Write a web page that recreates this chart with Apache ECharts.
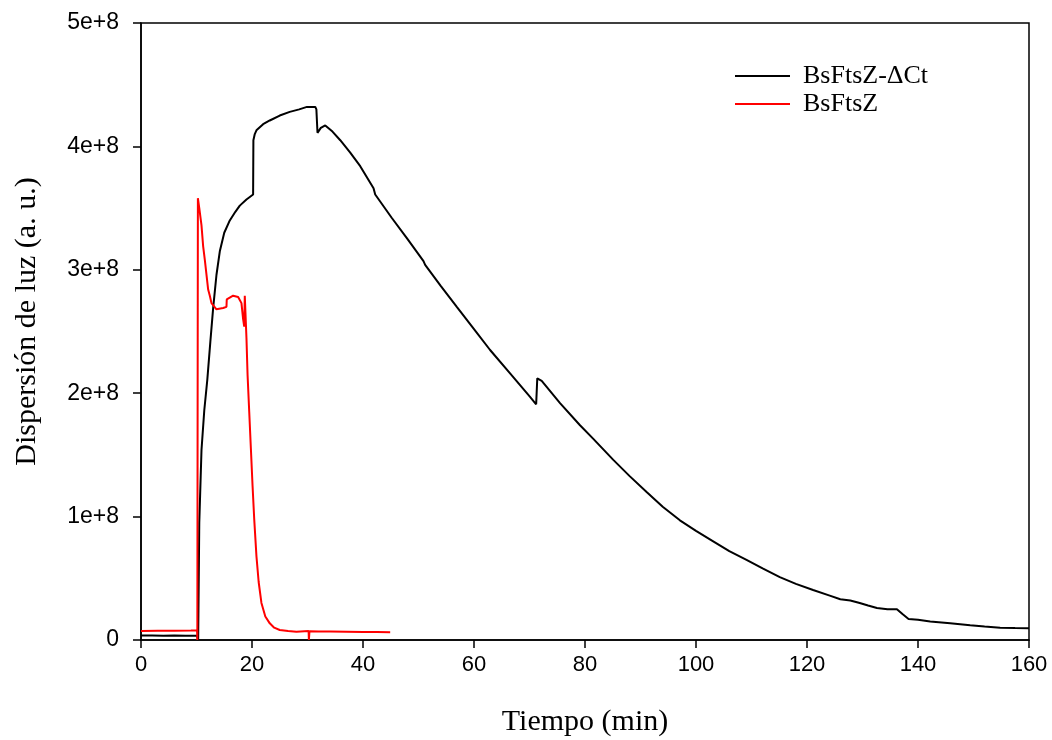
<!DOCTYPE html>
<html>
<head>
<meta charset="utf-8">
<script src="https://cdn.jsdelivr.net/npm/echarts@6/dist/echarts.min.js"></script>
<style>
html,body{margin:0;padding:0;background:#fff;}
#chart{width:1052px;height:740px;}
</style>
</head>
<body>
<div id="chart"></div>
<script>
// Tiempo (min) and Dispersión de luz (a. u.)
const blackTime = [0, 2, 4, 6, 8, 10.1, 10.2, 10.3, 10.5, 10.9, 11.4, 11.95, 12.5, 13.0, 13.6, 14.2, 15.0, 16.0, 17.0, 17.8, 19.0, 20.2, 20.25, 20.5, 20.8, 22.0, 23.2, 25.0, 26.8, 28.5, 29.9, 31.4, 31.6, 31.8, 32.4, 33.2, 34.5, 35.9, 37.7, 39.5, 41.9, 42.2, 45.2, 48.0, 50.9, 51.2, 54.0, 56.9, 60.0, 62.9, 66.5, 70.1, 71.2, 71.4, 72.2, 75.5, 79.1, 81.5, 85.1, 88.0, 91.1, 94.0, 97.1, 100.0, 103.1, 106.0, 109.1, 112.0, 115.1, 118.0, 121.1, 124.1, 126.0, 127.8, 129.5, 131.0, 132.6, 134.5, 136.2, 137.2, 138.3, 140.0, 142.2, 145.8, 149.4, 152.0, 154.8, 157.5, 160.0];
const blackValue = [0.036e8, 0.036e8, 0.035e8, 0.036e8, 0.035e8, 0.035e8, 0.034e8, 0, 0.95e8, 1.54e8, 1.86e8, 2.11e8, 2.42e8, 2.69e8, 2.96e8, 3.15e8, 3.30e8, 3.40e8, 3.47e8, 3.52e8, 3.57e8, 3.61e8, 4.05e8, 4.10e8, 4.13e8, 4.18e8, 4.21e8, 4.25e8, 4.28e8, 4.30e8, 4.32e8, 4.32e8, 4.30e8, 4.11e8, 4.15e8, 4.17e8, 4.12e8, 4.05e8, 3.95e8, 3.84e8, 3.66e8, 3.61e8, 3.42e8, 3.25e8, 3.07e8, 3.04e8, 2.87e8, 2.70e8, 2.52e8, 2.35e8, 2.16e8, 1.97e8, 1.91e8, 2.12e8, 2.10e8, 1.92e8, 1.74e8, 1.63e8, 1.46e8, 1.33e8, 1.20e8, 1.08e8, 0.97e8, 0.885e8, 0.80e8, 0.72e8, 0.65e8, 0.58e8, 0.51e8, 0.455e8, 0.405e8, 0.36e8, 0.33e8, 0.32e8, 0.30e8, 0.28e8, 0.26e8, 0.25e8, 0.25e8, 0.21e8, 0.17e8, 0.165e8, 0.15e8, 0.135e8, 0.12e8, 0.11e8, 0.10e8, 0.097e8, 0.095e8];

const redTime = [0, 3, 6, 9, 10.1, 10.15, 10.2, 10.25, 10.5, 10.9, 11.2, 11.5, 12.1, 12.4, 12.7, 13.6, 14.8, 15.4, 15.45, 15.6, 16.6, 17.5, 18.1, 18.4, 18.6, 18.7, 18.8, 19.0, 19.2, 19.5, 19.8, 20.1, 20.4, 20.8, 21.2, 21.7, 22.4, 23.2, 24.0, 25.0, 26.5, 28.0, 30.2, 30.25, 30.3, 30.35, 32.0, 34.1, 37.0, 40.0, 42.5, 44.9];
const redValue = [0.073e8, 0.074e8, 0.075e8, 0.077e8, 0.078e8, 0.0, 0.0, 3.58e8, 3.50e8, 3.36e8, 3.19e8, 3.08e8, 2.84e8, 2.79e8, 2.73e8, 2.68e8, 2.69e8, 2.70e8, 2.76e8, 2.77e8, 2.79e8, 2.78e8, 2.73e8, 2.60e8, 2.54e8, 2.79e8, 2.79e8, 2.45e8, 2.15e8, 1.85e8, 1.55e8, 1.25e8, 0.98e8, 0.68e8, 0.47e8, 0.30e8, 0.19e8, 0.135e8, 0.10e8, 0.081e8, 0.072e8, 0.067e8, 0.073e8, 0.0, 0.0, 0.07e8, 0.069e8, 0.068e8, 0.067e8, 0.065e8, 0.064e8, 0.062e8];

const seriesNames = ['BsFtsZ-\u0394Ct', 'BsFtsZ'];
const seriesColors = ['#000000', '#ff0000'];
const xTickLabels = ['0', '20', '40', '60', '80', '100', '120', '140', '160'];
const yTickLabels = ['0', '1e+8', '2e+8', '3e+8', '4e+8', '5e+8'];

const zip = (a, b) => a.map((t, i) => [t, b[i]]);

const chart = echarts.init(document.getElementById('chart'), null, {renderer: 'canvas'});
chart.setOption({
  animation: false,
  backgroundColor: '#ffffff',
  grid: {
    left: 141, right: 23, top: 23, bottom: 100,
    containLabel: false, outerBoundsMode: 'none',
    show: true, borderColor: '#000', borderWidth: 1.5, backgroundColor: 'transparent'
  },
  legend: {
    orient: 'vertical',
    left: 730, top: 58,
    itemWidth: 55, itemHeight: 2, itemGap: 2,
    icon: 'rect',
    textStyle: {fontFamily: 'Liberation Serif', fontSize: 26, color: '#000', padding: [0, 0, 0, 8]},
    data: seriesNames.map((n, i) => ({name: n, itemStyle: {color: seriesColors[i]}}))
  },
  xAxis: {
    type: 'value', min: 0, max: 160, interval: 20,
    name: 'Tiempo (min)', nameLocation: 'middle', nameGap: 67,
    nameTextStyle: {fontFamily: 'Liberation Serif', fontSize: 30, color: '#000'},
    axisLine: {show: true, onZero: false, lineStyle: {color: '#000', width: 1.5}},
    axisTick: {show: true, inside: false, length: 8, lineStyle: {color: '#000', width: 1.5}},
    axisLabel: {
      margin: 14, color: '#000', fontFamily: 'Liberation Sans', fontSize: 22,
      formatter: v => xTickLabels[Math.round(v / 20)]
    },
    splitLine: {show: false}
  },
  yAxis: {
    type: 'value', min: 0, max: 5e8, interval: 1e8,
    name: 'Dispersión de luz (a. u.)', nameLocation: 'middle', nameGap: 99,
    nameTextStyle: {fontFamily: 'Liberation Serif', fontSize: 30, color: '#000', padding: [0, 0, 0, 20]},
    axisLine: {show: true, onZero: false, lineStyle: {color: '#000', width: 1.5}},
    axisTick: {show: true, inside: false, length: 8, lineStyle: {color: '#000', width: 1.5}},
    axisLabel: {
      margin: 22, color: '#000', fontFamily: 'Liberation Sans', fontSize: 23,
      formatter: v => yTickLabels[Math.round(v / 1e8)]
    },
    splitLine: {show: false}
  },
  series: [
    {
      name: seriesNames[0], type: 'line', data: zip(blackTime, blackValue),
      showSymbol: false, symbol: 'none', smooth: false,
      lineStyle: {color: seriesColors[0], width: 2}, itemStyle: {color: seriesColors[0]}, z: 2
    },
    {
      name: seriesNames[1], type: 'line', data: zip(redTime, redValue),
      showSymbol: false, symbol: 'none', smooth: false,
      lineStyle: {color: seriesColors[1], width: 2}, itemStyle: {color: seriesColors[1]}, z: 3
    }
  ]
});
</script>
</body>
</html>
